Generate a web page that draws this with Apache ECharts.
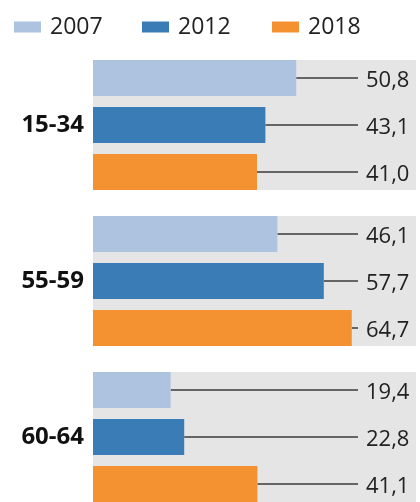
<!DOCTYPE html>
<html>
<head>
<meta charset="utf-8">
<script src="https://cdn.jsdelivr.net/npm/echarts@6/dist/echarts.min.js"></script>
<style>html,body{margin:0;padding:0;background:#fff}#c{width:420px;height:502px}</style>
</head>
<body>
<div id="c"></div>
<script>
const categories = ['15-34', '55-59', '60-64'];
const years = ['2007', '2012', '2018'];
const values2007 = [50.8, 46.1, 19.4];
const values2012 = [43.1, 57.7, 22.8];
const values2018 = [41.0, 64.7, 41.1];

const colors = ['#adc3df', '#3a7db6', '#f49232'];
const seriesValues = [values2007, values2012, values2018];
const BAR_W = 36, BAR_PITCH = 47, LINE_END_X = 358, LABEL_X = 366;

const fmt = v => v.toFixed(1).replace('.', ',');

const chart = echarts.init(document.getElementById('c'));

const bandSeries = {
  type: 'custom',
  silent: true,
  z: 1,
  data: categories.map((c, i) => [0, i]),
  renderItem: function (params, api) {
    const cs = params.coordSys;
    const yc = api.coord([0, api.value(1)])[1];
    const half = BAR_PITCH + BAR_W / 2;
    return {
      type: 'rect',
      shape: { x: cs.x, y: yc - half, width: cs.width, height: half * 2 },
      style: { fill: '#e5e5e5' }
    };
  }
};

const barSeries = years.map((y, k) => ({
  name: y,
  type: 'bar',
  z: 3,
  barWidth: BAR_W,
  barGap: ((BAR_PITCH - BAR_W) / BAR_W * 100) + '%',
  itemStyle: { color: colors[k] },
  data: seriesValues[k]
}));

const labelSeries = years.map((y, k) => ({
  type: 'custom',
  z: 2,
  silent: true,
  data: seriesValues[k].map((v, i) => [v, i]),
  renderItem: function (params, api) {
    const p = api.coord([api.value(0), api.value(1)]);
    const yc = p[1] + (k - 1) * BAR_PITCH;
    return {
      type: 'group',
      children: [
        { type: 'line', shape: { x1: p[0], y1: yc, x2: LINE_END_X, y2: yc },
          style: { stroke: '#3a3a3a', lineWidth: 1.5 } },
        { type: 'text', style: { x: LABEL_X, y: yc + 3, text: fmt(api.value(0)),
          font: '22px "Open Sans"', fill: '#222', verticalAlign: 'middle', align: 'left' } }
      ]
    };
  }
}));

const legendLefts = [9, 137, 267];
const legends = years.map((y, k) => ({
  left: legendLefts[k],
  top: 10,
  data: [y],
  icon: 'rect',
  itemWidth: 27,
  itemHeight: 11,
  selectedMode: false,
  textStyle: { fontFamily: 'Open Sans', fontSize: 23, color: '#222', lineHeight: 24, padding: [0, 0, 0, 4] }
}));

chart.setOption({
  animation: false,
  legend: legends,
  grid: { left: 93, width: 323, top: 47, height: 468, outerBoundsMode: 'none', containLabel: false },
  xAxis: { type: 'value', min: 0, max: 80.75, show: false },
  yAxis: {
    type: 'category',
    inverse: true,
    data: categories,
    axisLine: { show: false },
    axisTick: { show: false },
    axisLabel: { margin: 9, fontFamily: 'Open Sans', fontWeight: 'bold', fontSize: 24, color: '#111' }
  },
  series: [bandSeries].concat(barSeries, labelSeries)
});
</script>
</body>
</html>
